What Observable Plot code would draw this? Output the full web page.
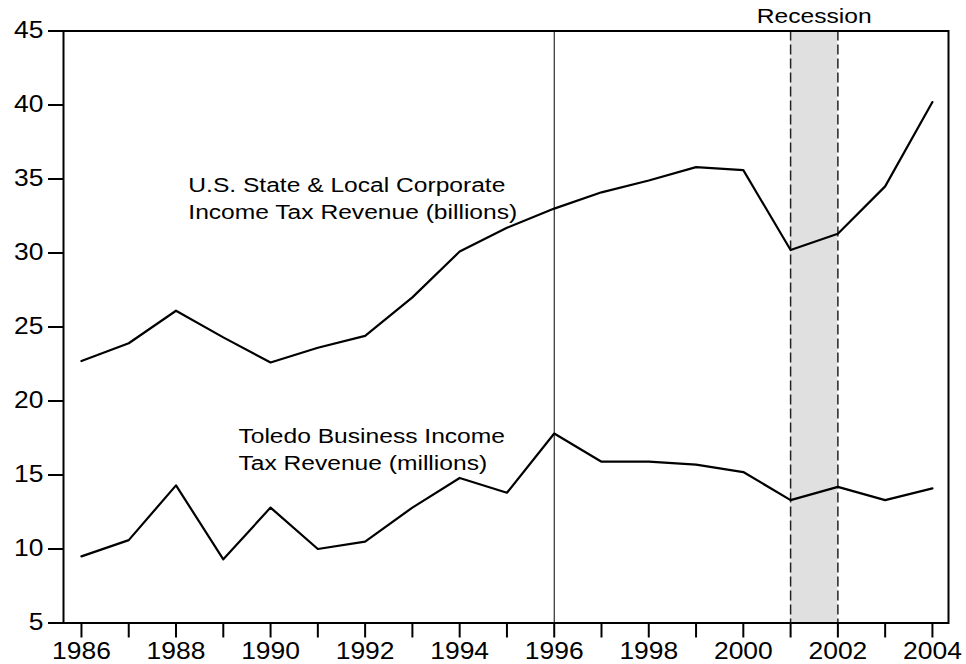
<!DOCTYPE html>
<html><head><meta charset="utf-8">
<script src="https://cdn.jsdelivr.net/npm/d3@7"></script>
<script src="https://cdn.jsdelivr.net/npm/@observablehq/plot@0.6"></script>
<style>
html,body{margin:0;padding:0;background:#fff}
#chart{position:absolute;left:0;top:0}
</style>
</head><body><div id="chart"></div>
<script>
const years = [1986,1987,1988,1989,1990,1991,1992,1993,1994,1995,1996,1997,1998,1999,2000,2001,2002,2003,2004];
const usCorporate = [22.7,23.9,26.1,24.3,22.6,23.6,24.4,27.0,30.1,31.7,33.0,34.1,34.9,35.8,35.6,30.2,31.3,34.5,40.2];
const toledo = [9.5,10.6,14.3,9.3,12.8,10.0,10.5,12.8,14.8,13.8,17.8,15.9,15.9,15.7,15.2,13.3,14.2,13.3,14.1];
const recession = [2001, 2002];
const markerYear = [1996];
const yTicks = [5,10,15,20,25,30,35,40,45];
const xLabelYears = [1986,1988,1990,1992,1994,1996,1998,2000,2002,2004];
const usLabel = "U.S. State & Local Corporate\nIncome Tax Revenue (billions)";
const toledoLabel = "Toledo Business Income\nTax Revenue (millions)";
const recessionLabel = "Recession";

const chart = Plot.plot({
  width: 966,
  height: 664,
  marginLeft: 63,
  marginRight: 18,
  marginTop: 30.5,
  marginBottom: 41.5,
  style: {fontFamily: "'Liberation Sans', Arial, sans-serif", background: "white", color: "black"},
  x: {domain: [1985.62, 2004.34]},
  y: {domain: [5, 45]},
  marks: [
    Plot.rect([recession], {x1: d => d[0], x2: d => d[1], fill: "#e0e0e0"}),
    Plot.ruleX(recession, {stroke: "#222", strokeWidth: 1.5, strokeDasharray: "10,4"}),
    Plot.ruleX(markerYear, {stroke: "black", strokeWidth: 1}),
    Plot.line(years, {x: d => d, y: (d, i) => usCorporate[i], stroke: "black", strokeWidth: 2.2}),
    Plot.line(years, {x: d => d, y: (d, i) => toledo[i], stroke: "black", strokeWidth: 2.2}),
    Plot.text([usLabel], {x: 1988.26, y: 33.8, textAnchor: "start", fontSize: 20, lineHeight: 1.35, fill: "black"}),
    Plot.text([toledoLabel], {x: 1989.32, y: 16.86, textAnchor: "start", fontSize: 20, lineHeight: 1.35, fill: "black"}),
    Plot.text([recessionLabel], {x: 2001.5, y: 45, dy: -14, fontSize: 20, fill: "black"}),
    Plot.axisX({ticks: years, tickSize: 15, tickPadding: 4.5, strokeWidth: 2, fontSize: 23, label: null,
      tickFormat: d => xLabelYears.includes(d) ? String(d) : ""}),
    Plot.axisY({ticks: yTicks, tickSize: 15, tickPadding: 5, strokeWidth: 2, fontSize: 23, label: null}),
    Plot.frame({stroke: "black", strokeWidth: 2})
  ]
});
document.getElementById("chart").appendChild(chart);

const svg = d3.select(chart);
svg.selectAll('g[aria-label="x-axis tick label"] text, g[aria-label="y-axis tick label"] text')
  .attr("transform", function() { return (this.getAttribute("transform") || "") + " scale(1.15,1)"; });
svg.selectAll('g[aria-label="text"] text')
  .attr("transform", function() { return (this.getAttribute("transform") || "") + " scale(1.23,1)"; });
</script>
</body></html>
